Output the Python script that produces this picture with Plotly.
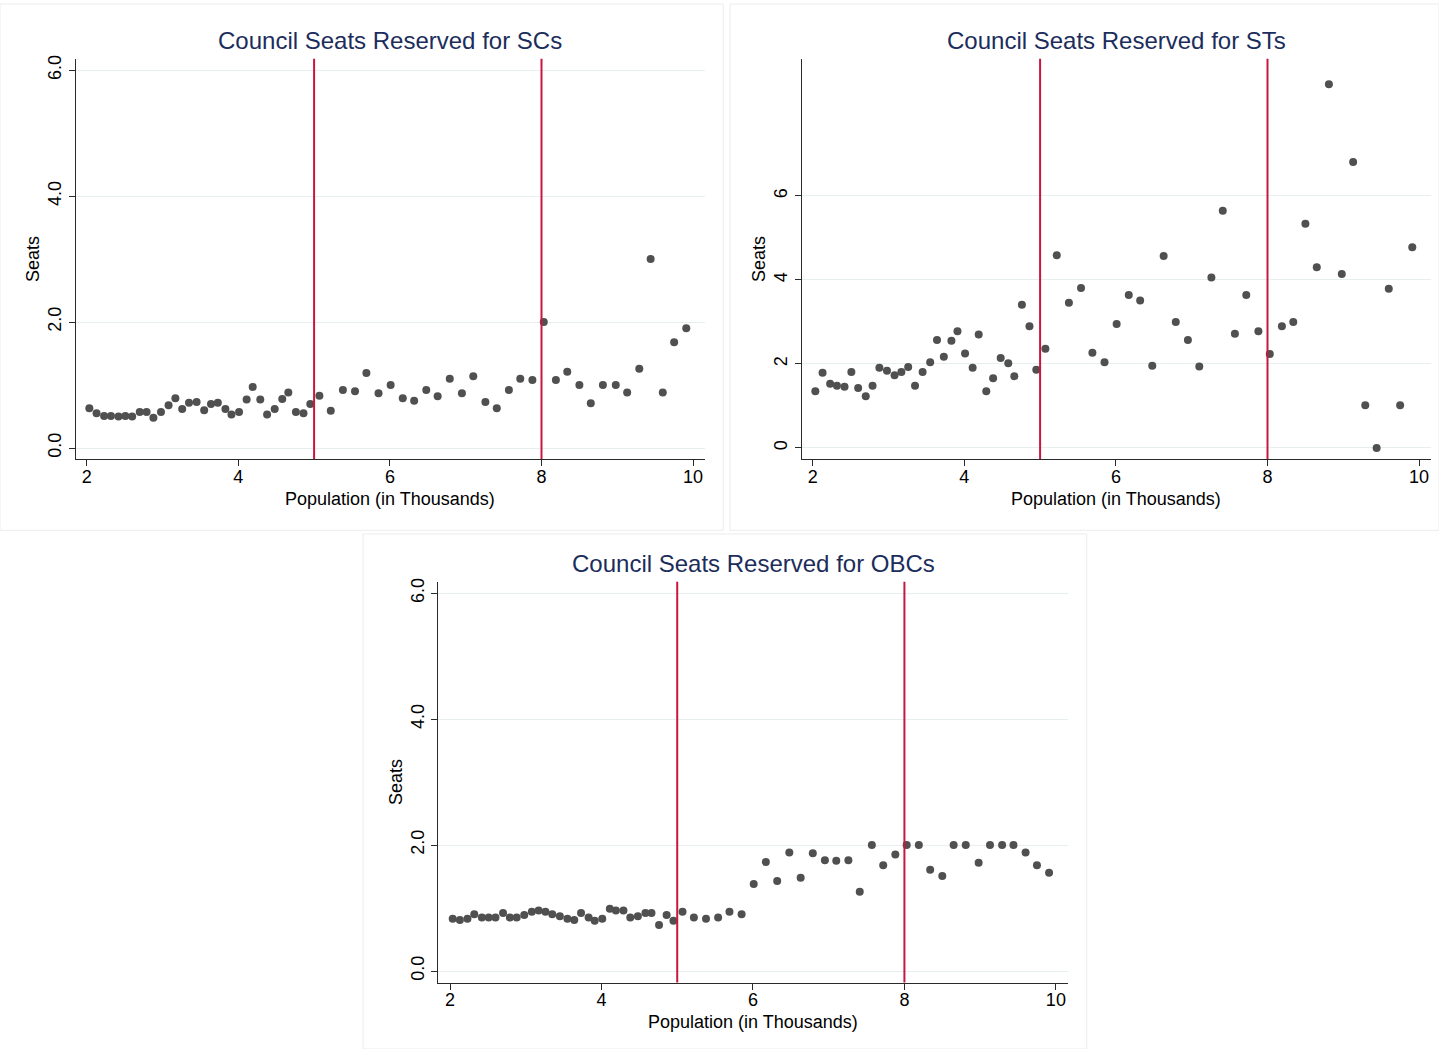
import plotly.graph_objects as go

# ---- data ----
population = [2.035, 2.13, 2.23, 2.32, 2.42, 2.51, 2.60, 2.70, 2.79, 2.88, 2.98, 3.08, 3.17, 3.26, 3.35, 3.45,
              3.55, 3.64, 3.73, 3.83, 3.91, 4.01, 4.11, 4.19, 4.29, 4.38, 4.48, 4.58, 4.66, 4.76, 4.86, 4.95,
              5.07, 5.22, 5.38, 5.54, 5.69, 5.85, 6.01, 6.17, 6.32, 6.48, 6.63, 6.79, 6.95, 7.10, 7.26, 7.41,
              7.57, 7.72, 7.88, 8.03, 8.19, 8.34, 8.50, 8.65, 8.81, 8.98, 9.13, 9.29, 9.44, 9.60, 9.75, 9.91]

sc_seats = [0.63, 0.55, 0.51, 0.51, 0.50, 0.51, 0.50, 0.57, 0.57, 0.48, 0.57, 0.68, 0.79, 0.62, 0.72, 0.73,
            0.60, 0.70, 0.72, 0.62, 0.53, 0.57, 0.77, 0.97, 0.77, 0.53, 0.62, 0.78, 0.88, 0.57, 0.55, 0.70,
            0.83, 0.59, 0.92, 0.90, 1.19, 0.87, 1.00, 0.79, 0.75, 0.92, 0.82, 1.10, 0.87, 1.14, 0.73, 0.63,
            0.92, 1.10, 1.08, 2.00, 1.08, 1.21, 1.00, 0.71, 1.00, 1.00, 0.88, 1.26, 3.00, 0.88, 1.68, 1.90]

st_seats = [1.35, 1.79, 1.53, 1.48, 1.46, 1.81, 1.43, 1.23, 1.48, 1.91, 1.84, 1.73, 1.81, 1.93, 1.48, 1.81,
            2.04, 2.57, 2.17, 2.55, 2.78, 2.25, 1.91, 2.70, 1.35, 1.66, 2.14, 2.02, 1.71, 3.41, 2.90, 1.86,
            2.36, 4.59, 3.46, 3.81, 2.27, 2.04, 2.95, 3.64, 3.51, 1.96, 4.57, 3.00, 2.57, 1.94, 4.06, 5.65,
            2.72, 3.64, 2.78, 2.24, 2.90, 3.00, 5.34, 4.30, 8.66, 4.14, 6.81, 1.02, 0.00, 3.79, 1.02, 4.78]

obc_seats = [0.83, 0.81, 0.83, 0.90, 0.85, 0.85, 0.85, 0.92, 0.85, 0.85, 0.89, 0.94, 0.96, 0.94, 0.90, 0.87,
             0.83, 0.81, 0.92, 0.85, 0.80, 0.83, 0.99, 0.96, 0.96, 0.85, 0.87, 0.92, 0.92, 0.73, 0.89, 0.80,
             0.94, 0.85, 0.83, 0.85, 0.94, 0.90, 1.38, 1.73, 1.43, 1.88, 1.48, 1.87, 1.76, 1.75, 1.76, 1.26,
             2.00, 1.68, 1.85, 2.00, 2.00, 1.61, 1.51, 2.00, 2.00, 1.72, 2.00, 2.00, 2.00, 1.88, 1.68, 1.56]

cutoffs = [5, 8]
x_ticks = [2, 4, 6, 8, 10]
x_tick_labels = ["2", "4", "6", "8", "10"]
sc_obc_y_ticks = [0, 2, 4, 6]
sc_obc_y_labels = ["0.0", "2.0", "4.0", "6.0"]
st_y_ticks = [0, 2, 4, 6]
st_y_labels = ["0", "2", "4", "6"]

titles = ["Council Seats Reserved for SCs", "Council Seats Reserved for STs", "Council Seats Reserved for OBCs"]
x_title = "Population (in Thousands)"
y_title = "Seats"

# ---- layout constants ----
W, H = 1439, 1049
FONT = "Liberation Sans, Arial, Helvetica, sans-serif"
TITLE_COLOR = "#1c2d5c"
MARKER_COLOR = "#505050"
RED = "#c8173f"
AXIS_COLOR = "#2a2a2a"
GRID_COLOR = "#e6eeef"


def px_x(p):
    return p / W


def px_y(p):
    return 1 - p / H


# panel geometry in pixels: (left, right, top, bottom)
panels = [
    dict(l=75.7, r=705, t=55, b=456.7, xr=[1.855, 10.157], yr=[-0.174, 6.18],
         yt=sc_obc_y_ticks, ytl=sc_obc_y_labels, data=sc_seats),
    dict(l=801.7, r=1431, t=55, b=456.7, xr=[1.855, 10.157], yr=[-0.261, 9.265],
         yt=st_y_ticks, ytl=st_y_labels, data=st_seats),
    dict(l=438.3, r=1068, t=580, b=982.3, xr=[1.845, 10.16], yr=[-0.183, 6.18],
         yt=sc_obc_y_ticks, ytl=sc_obc_y_labels, data=obc_seats),
]

fig = go.Figure()
annotations = []
shapes = []

# faint panel borders (graph-combine frames)
for (x0, y0, x1, y1) in [(0, 0, 723.3, 528.3), (730, 0, 1439, 528.3), (363, 532, 1086.7, 1049)]:
    shapes.append(dict(type="rect", xref="paper", yref="paper",
                       x0=px_x(x0), x1=px_x(x1), y0=px_y(y1), y1=px_y(y0),
                       line=dict(color="#ececec", width=1), fillcolor="rgba(0,0,0,0)", layer="below"))

for i, p in enumerate(panels):
    n = "" if i == 0 else str(i + 1)
    xa, ya = "x" + n, "y" + n
    fig.add_trace(go.Scatter(
        x=population, y=p["data"], mode="markers", xaxis=xa, yaxis=ya,
        marker=dict(color=MARKER_COLOR, size=8, line=dict(width=0)),
        showlegend=False, hoverinfo="x+y"))

    fig.update_layout(**{
        "xaxis" + n: dict(
            domain=[px_x(p["l"]), px_x(p["r"])], range=p["xr"], anchor=ya,
            tickvals=x_ticks, ticktext=x_tick_labels, showgrid=False, zeroline=False,
            showline=True, linecolor=AXIS_COLOR, linewidth=1.2,
            ticks="outside", ticklen=6, tickwidth=1.2, tickcolor=AXIS_COLOR,
            ticklabelstandoff=-5,
            tickfont=dict(family=FONT, size=18, color="#000000")),
        "yaxis" + n: dict(
            domain=[px_y(p["b"]), px_y(p["t"])], range=p["yr"], anchor=xa,
            tickvals=p["yt"], ticktext=p["ytl"], tickangle=-90,
            showgrid=True, gridcolor=GRID_COLOR, gridwidth=1, zeroline=False,
            showline=True, linecolor=AXIS_COLOR, linewidth=1.2,
            ticks="outside", ticklen=6, tickwidth=1.2, tickcolor=AXIS_COLOR,
            tickfont=dict(family=FONT, size=18, color="#000000")),
    })

    for c in cutoffs:
        shapes.append(dict(type="line", xref=xa, yref=ya + " domain", x0=c, x1=c, y0=0, y1=1,
                           line=dict(color=RED, width=2), layer="above"))

    cx = (p["l"] + p["r"]) / 2
    annotations.append(dict(text=titles[i], xref="paper", yref="paper",
                            x=px_x(cx), y=px_y(p["t"] - 18), xanchor="center", yanchor="middle",
                            showarrow=False, font=dict(family=FONT, size=24, color=TITLE_COLOR)))
    annotations.append(dict(text=x_title, xref="paper", yref="paper",
                            x=px_x(cx), y=px_y(p["b"] + 40), xanchor="center", yanchor="middle",
                            showarrow=False, font=dict(family=FONT, size=18, color="#000000")))
    annotations.append(dict(text=y_title, xref="paper", yref="paper",
                            x=px_x(p["l"] - 42.5), y=px_y((p["t"] + p["b"]) / 2),
                            xanchor="center", yanchor="middle", textangle=-90,
                            showarrow=False, font=dict(family=FONT, size=18, color="#000000")))

fig.update_layout(
    width=W, height=H, margin=dict(l=0, r=0, t=0, b=0),
    paper_bgcolor="white", plot_bgcolor="white",
    shapes=shapes, annotations=annotations,
    font=dict(family=FONT),
)

fig.write_html("out.html")
